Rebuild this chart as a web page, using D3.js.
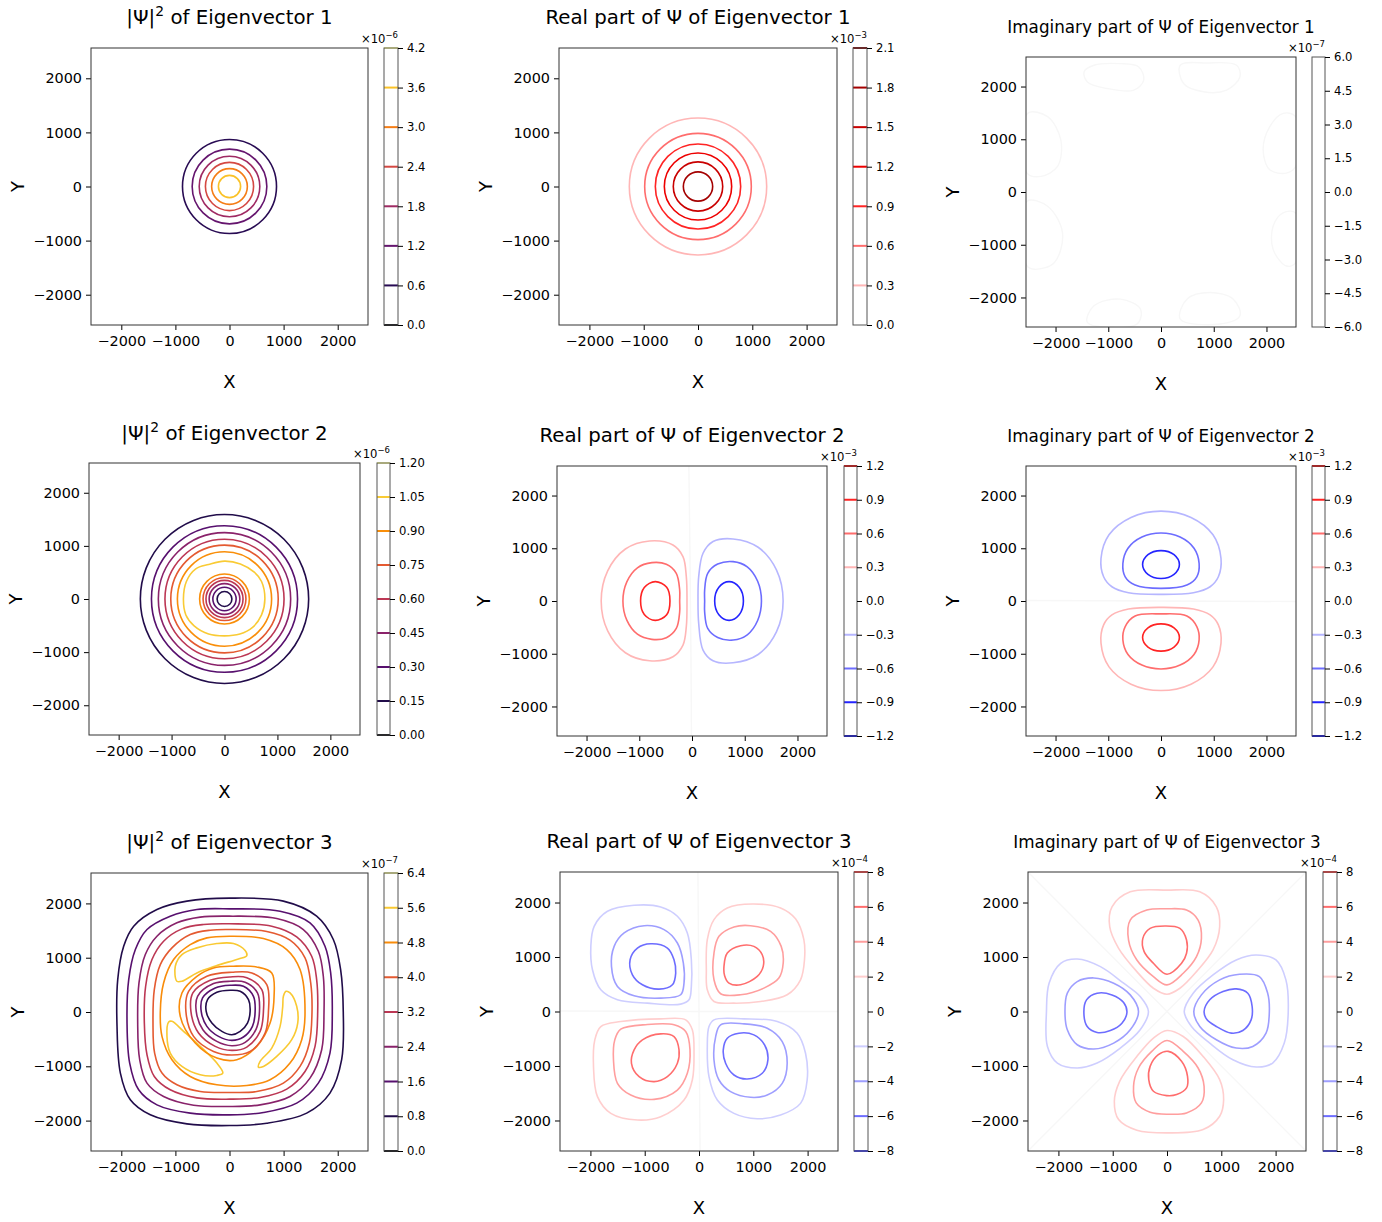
<!DOCTYPE html>
<html>
<head>
<meta charset="utf-8">
<script src="https://cdn.jsdelivr.net/npm/d3@7"></script>
<style>
  body { margin: 0; background: #fff; }
  text { font-family: "DejaVu Sans", sans-serif; fill: #000; }
</style>
</head>
<body>
<svg id="fig" width="1382" height="1222"></svg>
<script>
"use strict";
/* global d3 */

// ---- data (lengths in grid units, levels in colorbar units) ----
var extent = 2560;
var axisTicks = [-2000, -1000, 0, 1000, 2000];

var levelsAbs1 = [0, 0.6, 1.2, 1.8, 2.4, 3.0, 3.6, 4.2];
var levelsRe1 = [0, 0.3, 0.6, 0.9, 1.2, 1.5, 1.8, 2.1];
var levelsIm1 = [-6, -4.5, -3, -1.5, 0, 1.5, 3, 4.5, 6];
var levelsAbs2 = [0, 0.15, 0.3, 0.45, 0.6, 0.75, 0.9, 1.05, 1.2];
var levelsRe2 = [-1.2, -0.9, -0.6, -0.3, 0, 0.3, 0.6, 0.9, 1.2];
var levelsIm2 = levelsRe2;
var levelsAbs3 = [0, 0.8, 1.6, 2.4, 3.2, 4.0, 4.8, 5.6, 6.4];
var levelsRe3 = [-8, -6, -4, -2, 0, 2, 4, 6, 8];
var levelsIm3 = levelsRe3;

// circular contours: [level, radius]
var ringsAbs1 = [[0.6, 869], [1.2, 690], [1.8, 560], [2.4, 445], [3.0, 330], [3.6, 205]];
var ringsRe1 = [[0.3, 1265], [0.6, 982], [0.9, 786], [1.2, 620], [1.5, 455], [1.8, 270]];
var ringsAbs2 = [
  [0.15, 1590], [0.3, 1380], [0.45, 1250], [0.6, 1125], [0.75, 1015], [0.9, 890],
  [0.9, 470], [0.75, 405], [0.6, 350], [0.45, 290], [0.3, 220], [0.15, 140]
];

// closed contours: {level, pts}
var shapesAbs2 = [
  { level: 1.05, pts: [[763, 0], [700, 330], [562, 505], [300, 660], [0, 713], [-300, 650], [-543, 568], [-720, 330], [-776, 0], [-730, -300], [-574, -505], [-300, -660], [0, -694], [290, -660], [530, -536], [700, -300]] }
];

var shapesRe2 = [
  { level: 0.3, pts: [[-95, 0], [-108, 462], [-171, 842], [-361, 1063], [-804, 1139], [-1263, 986], [-1599, 570], [-1722, 0], [-1599, -567], [-1263, -981], [-804, -1133], [-361, -1057], [-171, -836], [-108, -487]] },
  { level: 0.6, pts: [[-234, 0], [-234, 209], [-298, 525], [-487, 696], [-760, 728], [-1035, 630], [-1236, 364], [-1310, 0], [-1236, -364], [-1035, -630], [-760, -728], [-487, -696], [-298, -520], [-234, -209]] },
  { level: 0.9, pts: [[-418, 0], [-480, 260], [-696, 367], [-905, 255], [-975, 0], [-905, -255], [-696, -367], [-480, -260]] },
  { level: -0.3, pts: [[114, 0], [127, 462], [209, 905], [399, 1127], [779, 1177], [1254, 1019], [1601, 589], [1728, 0], [1601, -586], [1254, -1014], [779, -1171], [399, -1133], [209, -930], [127, -424]] },
  { level: -0.6, pts: [[240, 0], [240, 209], [298, 525], [487, 700], [780, 747], [1048, 647], [1245, 374], [1317, 0], [1245, -370], [1048, -641], [780, -740], [487, -693], [298, -520], [240, -209]] },
  { level: -0.9, pts: [[975, 0], [895, 260], [703, 367], [510, 260], [430, 0], [510, -260], [703, -367], [895, -260]] }
];

var shapesIm2 = [
  { level: -0.3, pts: [[0, 126], [616, 157], [931, 270], [1088, 459], [1138, 805], [986, 1255], [569, 1584], [0, 1705], [-569, 1584], [-986, 1255], [-1138, 805], [-1088, 459], [-931, 270], [-616, 157]] },
  { level: -0.6, pts: [[0, 239], [491, 302], [679, 459], [723, 711], [626, 1000], [362, 1212], [0, 1289], [-362, 1212], [-626, 1000], [-723, 711], [-679, 459], [-491, 302]] },
  { level: -0.9, pts: [[349, 692], [247, 879], [0, 956], [-247, 879], [-349, 692], [-247, 505], [0, 428], [247, 505]] },
  { level: 0.3, pts: [[0, -120], [616, -151], [931, -264], [1088, -453], [1138, -799], [986, -1249], [569, -1577], [0, -1698], [-569, -1577], [-986, -1249], [-1138, -799], [-1088, -453], [-931, -264], [-616, -151]] },
  { level: 0.6, pts: [[0, -245], [491, -283], [679, -484], [723, -736], [626, -1013], [362, -1215], [0, -1289], [-362, -1215], [-626, -1013], [-723, -736], [-679, -484], [-491, -283]] },
  { level: 0.9, pts: [[349, -692], [247, -510], [0, -434], [-247, -510], [-349, -692], [-247, -874], [0, -950], [247, -874]] }
];

var shapesAbs3 = [
  { level: 0.8, pts: [[0, 2097], [996, 2042], [1611, 1765], [1919, 1335], [2054, 781], [2103, 0], [2073, -879], [1857, -1494], [1427, -1863], [689, -2048], [0, -2091], [-787, -2060], [-1464, -1894], [-1833, -1617], [-2017, -1125], [-2079, -264], [-2066, 597], [-1956, 1212], [-1771, 1581], [-1341, 1888], [-787, 2042]] },
  { level: 1.6, pts: [[0, 1900], [935, 1857], [1488, 1642], [1765, 1212], [1870, 720], [1900, 0], [1857, -756], [1642, -1310], [1242, -1679], [627, -1851], [0, -1894], [-726, -1863], [-1341, -1710], [-1679, -1433], [-1845, -941], [-1894, -203], [-1863, 597], [-1740, 1150], [-1525, 1519], [-1095, 1765], [-603, 1888]] },
  { level: 2.4, pts: [[0, 1765], [873, 1722], [1365, 1519], [1642, 1119], [1734, 658], [1747, 0], [1704, -695], [1488, -1218], [1119, -1556], [566, -1710], [0, -1740], [-664, -1716], [-1218, -1556], [-1525, -1310], [-1660, -879], [-1697, -203], [-1673, 535], [-1556, 1058], [-1341, 1396], [-972, 1642], [-541, 1747]] },
  { level: 3.2, pts: [[0, 1624], [781, 1581], [1242, 1384], [1519, 1027], [1611, 597], [1630, 0], [1581, -633], [1396, -1095], [1058, -1421], [566, -1574], [0, -1605], [-603, -1581], [-1095, -1433], [-1390, -1187], [-1525, -787], [-1574, -203], [-1550, 474], [-1433, 966], [-1218, 1304], [-879, 1531], [-480, 1611]] },
  { level: 4.0, pts: [[0, 1519], [689, 1482], [1119, 1322], [1396, 996], [1501, 535], [1525, 0], [1476, -572], [1304, -1002], [996, -1310], [504, -1464], [0, -1482], [-541, -1464], [-972, -1341], [-1248, -1125], [-1384, -756], [-1414, -203], [-1390, 412], [-1279, 873], [-1064, 1181], [-726, 1427], [-357, 1507]] },
  { level: 4.8, pts: [[0, 1396], [627, 1353], [1058, 1150], [1304, 781], [1396, 0], [1335, -510], [1119, -941], [750, -1248], [320, -1353], [-234, -1341], [-726, -1187], [-1064, -879], [-1248, -449], [-1279, 0], [-1218, 535], [-1033, 966], [-726, 1242], [-418, 1365]] },
  { level: 5.6, pts: [[-972, 566], [-1002, 843], [-879, 1058], [-603, 1181], [-234, 1261], [74, 1261], [289, 1132], [320, 1039], [166, 978], [-234, 855], [-603, 720], [-879, 566]] },
  { level: 5.6, pts: [[1046, 381], [1119, 351], [1242, 105], [1261, -203], [1150, -510], [873, -818], [627, -1002], [535, -1015], [566, -910], [781, -664], [935, -264], [984, 105], [996, 289]] },
  { level: 5.6, pts: [[-1125, -184], [-1064, -172], [-849, -357], [-541, -633], [-234, -941], [-123, -1125], [-234, -1168], [-541, -1156], [-879, -1002], [-1095, -756], [-1156, -449]] },
  { level: 4.8, pts: [[74, 843], [504, 830], [781, 720], [824, 289], [750, -203], [504, -633], [135, -879], [-234, -849], [-633, -572], [-910, -80], [-879, 351], [-603, 658], [-295, 812]] },
  { level: 4.0, pts: [[43, 732], [412, 720], [689, 504], [720, 12], [658, -387], [381, -726], [43, -793], [-295, -726], [-664, -449], [-806, 12], [-756, 381], [-418, 658]] },
  { level: 3.2, pts: [[12, 646], [320, 633], [597, 412], [627, 12], [566, -357], [320, -646], [43, -707], [-264, -633], [-572, -387], [-713, 12], [-677, 351], [-357, 584]] },
  { level: 2.4, pts: [[12, 566], [289, 547], [517, 351], [554, 12], [492, -314], [289, -560], [43, -621], [-234, -541], [-492, -326], [-615, 12], [-590, 289], [-295, 523]] },
  { level: 1.6, pts: [[12, 492], [258, 474], [443, 289], [474, 12], [424, -264], [258, -461], [43, -523], [-203, -449], [-418, -264], [-523, 12], [-498, 258], [-264, 443]] },
  { level: 0.8, pts: [[12, 400], [197, 381], [351, 228], [381, 12], [332, -203], [197, -357], [43, -418], [-141, -357], [-326, -203], [-431, 12], [-406, 228], [-234, 363]] }
];

var shapesRe3 = [
  { level: -2, pts: [[-1195, 1949], [-705, 1919], [-398, 1747], [-215, 1441], [-141, 950], [-141, 460], [-184, 215], [-337, 135], [-950, 153], [-1502, 215], [-1808, 398], [-1962, 766], [-1992, 1195], [-1931, 1563], [-1686, 1839]] },
  { level: -4, pts: [[-1011, 1575], [-644, 1502], [-398, 1257], [-288, 889], [-276, 521], [-337, 307], [-705, 245], [-1195, 288], [-1502, 460], [-1612, 828], [-1563, 1195], [-1379, 1441]] },
  { level: -6, pts: [[-889, 1244], [-582, 1165], [-460, 950], [-429, 705], [-490, 490], [-736, 411], [-1042, 490], [-1226, 674], [-1269, 950], [-1134, 1165]] },
  { level: 2, pts: [[135, 766], [153, 1318], [276, 1686], [521, 1900], [981, 1974], [1502, 1900], [1778, 1700], [1931, 1318], [1943, 950], [1870, 582], [1624, 307], [1134, 184], [644, 153], [276, 184], [153, 398]] },
  { level: 4, pts: [[276, 1073], [368, 1379], [644, 1551], [950, 1575], [1318, 1471], [1514, 1195], [1551, 889], [1471, 613], [1195, 429], [766, 307], [398, 325], [276, 582]] },
  { level: 6, pts: [[460, 828], [521, 1073], [766, 1208], [1011, 1195], [1165, 1042], [1183, 828], [1073, 644], [766, 490], [552, 521], [472, 656]] },
  { level: 2, pts: [[-1808, -276], [-1441, -184], [-705, -135], [-245, -153], [-123, -337], [-92, -766], [-123, -1257], [-276, -1624], [-705, -1931], [-1134, -1992], [-1624, -1870], [-1870, -1563], [-1943, -1011], [-1919, -521]] },
  { level: 4, pts: [[-1441, -325], [-950, -239], [-460, -245], [-245, -368], [-166, -705], [-215, -1134], [-398, -1441], [-828, -1612], [-1257, -1533], [-1502, -1318], [-1575, -889], [-1551, -521]] },
  { level: 6, pts: [[-1195, -705], [-1042, -521], [-705, -411], [-460, -460], [-368, -705], [-398, -950], [-582, -1195], [-828, -1287], [-1103, -1195], [-1244, -950]] },
  { level: -2, pts: [[276, -153], [828, -135], [1441, -184], [1808, -398], [1962, -766], [1992, -1257], [1870, -1686], [1502, -1900], [1073, -1968], [644, -1870], [337, -1624], [184, -1195], [153, -644], [184, -276]] },
  { level: -4, pts: [[398, -245], [828, -227], [1257, -307], [1533, -552], [1624, -950], [1533, -1318], [1257, -1533], [950, -1575], [582, -1471], [368, -1257], [276, -889], [307, -460]] },
  { level: -6, pts: [[521, -490], [736, -398], [1011, -429], [1208, -613], [1269, -889], [1165, -1134], [889, -1238], [644, -1165], [490, -950], [447, -705]] }
];

var shapesIm3 = [
  { level: 2, pts: [[0, 2227], [604, 2196], [909, 1922], [970, 1556], [848, 1129], [543, 732], [238, 427], [0, 317], [-250, 427], [-555, 732], [-891, 1159], [-1055, 1556], [-1013, 1922], [-677, 2196]] },
  { level: 4, pts: [[0, 1885], [360, 1861], [573, 1678], [634, 1342], [543, 1007], [299, 702], [0, 488], [-250, 641], [-555, 946], [-708, 1312], [-677, 1678], [-372, 1861]] },
  { level: 6, pts: [[-37, 1568], [238, 1525], [360, 1312], [360, 1068], [268, 885], [0, 683], [-250, 885], [-421, 1098], [-445, 1342], [-311, 1525]] },
  { level: 2, pts: [[0, -348], [299, -458], [665, -824], [970, -1251], [1043, -1617], [970, -1922], [665, -2166], [24, -2227], [-555, -2178], [-891, -1983], [-970, -1647], [-872, -1281], [-555, -824], [-250, -488]] },
  { level: 4, pts: [[0, -531], [299, -732], [573, -1037], [683, -1373], [634, -1678], [360, -1861], [24, -1885], [-311, -1848], [-567, -1678], [-616, -1373], [-525, -1037], [-281, -732]] },
  { level: 6, pts: [[24, -732], [268, -915], [378, -1190], [360, -1403], [177, -1525], [-6, -1543], [-250, -1464], [-336, -1251], [-311, -1007], [-159, -793]] },
  { level: -2, pts: [[-342, 0], [-494, -336], [-860, -671], [-1287, -946], [-1653, -1037], [-2019, -946], [-2202, -641], [-2220, 0], [-2172, 519], [-1958, 885], [-1653, 964], [-1226, 824], [-799, 519], [-494, 275]] },
  { level: -4, pts: [[-525, 0], [-677, -336], [-982, -580], [-1348, -689], [-1653, -610], [-1836, -336], [-1879, 0], [-1836, 336], [-1653, 549], [-1348, 616], [-982, 519], [-677, 305]] },
  { level: -6, pts: [[-738, -18], [-830, -214], [-1043, -348], [-1287, -384], [-1470, -275], [-1531, -18], [-1482, 214], [-1287, 336], [-1013, 305], [-799, 165]] },
  { level: -2, pts: [[317, 0], [482, 336], [848, 671], [1275, 946], [1641, 1037], [2007, 946], [2190, 580], [2233, 0], [2160, -580], [1946, -946], [1641, -1019], [1214, -885], [787, -580], [451, -275]] },
  { level: -4, pts: [[494, 0], [634, 305], [970, 580], [1336, 683], [1702, 641], [1854, 336], [1885, 0], [1824, -397], [1580, -641], [1275, -671], [909, -519], [604, -275]] },
  { level: -6, pts: [[683, 0], [787, 214], [1031, 366], [1275, 415], [1488, 336], [1568, 92], [1549, -153], [1397, -348], [1183, -397], [909, -275], [738, -153]] }
];

// near-invisible contours (zero level / tiny values)
var faintIm1 = [
  [[-1459, 2277], [-1271, 2403], [-767, 2434], [-421, 2371], [-327, 2120], [-516, 1931], [-1019, 1962], [-1396, 2088]],
  [[365, 2403], [868, 2447], [1434, 2403], [1497, 2183], [1245, 1931], [805, 1900], [428, 2057]],
  [[2554, 1428], [2315, 1491], [2063, 1239], [1937, 799], [2063, 421], [2378, 359], [2554, 484]],
  [[2554, -396], [2315, -396], [2126, -648], [2126, -1088], [2378, -1403], [2554, -1340]],
  [[-2529, 1491], [-2151, 1428], [-1900, 988], [-1962, 484], [-2277, 296], [-2541, 359]],
  [[-2541, -176], [-2151, -270], [-1868, -774], [-2025, -1340], [-2403, -1466], [-2541, -1403]],
  [[365, -2409], [491, -2032], [931, -1906], [1371, -2032], [1497, -2346], [1120, -2503]],
  [[-1396, -2472], [-1271, -2157], [-767, -2032], [-390, -2220], [-453, -2503]]
];
var zeroRe2 = [[[-60, 2600], [-40, 1000], [-30, 0], [-20, -1000], [-10, -2600]]];
var zeroIm2 = [[[-2600, 10], [0, 0], [2600, -10]]];
var zeroRe3 = [[[-20, 2600], [0, 0], [20, -2600]], [[-2600, 10], [0, 0], [2600, 0]]];
var zeroIm3 = [[[-2600, 2600], [0, 0], [2600, -2600]], [[-2600, -2600], [0, 0], [2600, 2600]]];

var titles = [
  ["|Ψ|", "2", " of Eigenvector 1"], "Real part of Ψ of Eigenvector 1", "Imaginary part of Ψ of Eigenvector 1",
  ["|Ψ|", "2", " of Eigenvector 2"], "Real part of Ψ of Eigenvector 2", "Imaginary part of Ψ of Eigenvector 2",
  ["|Ψ|", "2", " of Eigenvector 3"], "Real part of Ψ of Eigenvector 3", "Imaginary part of Ψ of Eigenvector 3"
];
var exponents = ["−6", "−3", "−7", "−6", "−3", "−3", "−7", "−4", "−4"];

// ---- colour maps ----
var seismic = d3.scaleLinear()
  .domain([-2.1e-3, -1.05e-3, 0, 1.05e-3, 2.1e-3])
  .range(["#00004d", "#0000ff", "#ffffff", "#ff0000", "#800000"]);

function infernoColor(levels) {
  var top = levels[levels.length - 1];
  return (v) => d3.interpolateInferno(v / top);
}
function seismicColor(mult) {
  return (v) => seismic(v * mult);
}

var panels = [
  { box: [91, 368, 48, 325], cb: [384, 398], titleY: 24, titleSize: 19.8, levels: levelsAbs1, color: infernoColor(levelsAbs1), fmt: ".1f", rings: ringsAbs1, shapes: [], faint: [] },
  { box: [559, 837, 48, 325], cb: [853, 867], titleY: 24, titleSize: 19.8, levels: levelsRe1, color: seismicColor(1e-3), fmt: ".1f", rings: ringsRe1, shapes: [], faint: [] },
  { box: [1026, 1296, 57, 327], cb: [1312, 1325], titleY: 33, titleSize: 16.8, levels: levelsIm1, color: seismicColor(1e-7), fmt: ".1f", rings: [], shapes: [], faint: faintIm1, faintClosed: true },
  { box: [89, 360, 463, 735], cb: [377, 390], titleY: 440, titleSize: 19.8, levels: levelsAbs2, color: infernoColor(levelsAbs2), fmt: ".2f", rings: ringsAbs2, shapes: shapesAbs2, faint: [] },
  { box: [557, 827, 466, 736], cb: [844, 857], titleY: 441.5, titleSize: 19.8, levels: levelsRe2, color: seismicColor(1e-3), fmt: ".1f", rings: [], shapes: shapesRe2, faint: zeroRe2 },
  { box: [1026, 1296, 466, 736], cb: [1312, 1325], titleY: 441.5, titleSize: 16.8, levels: levelsIm2, color: seismicColor(1e-3), fmt: ".1f", rings: [], shapes: shapesIm2, faint: zeroIm2 },
  { box: [91, 368, 873, 1151], cb: [384, 398], titleY: 849, titleSize: 19.8, levels: levelsAbs3, color: infernoColor(levelsAbs3), fmt: ".1f", rings: [], shapes: shapesAbs3, faint: [] },
  { box: [560, 838, 872, 1151], cb: [854, 868], titleY: 847.5, titleSize: 19.8, levels: levelsRe3, color: seismicColor(1e-4), fmt: "d", rings: [], shapes: shapesRe3, faint: zeroRe3 },
  { box: [1028, 1306, 872, 1151], cb: [1323, 1337], titleY: 847.5, titleSize: 16.8, levels: levelsIm3, color: seismicColor(1e-4), fmt: "d", rings: [], shapes: shapesIm3, faint: zeroIm3 }
];

var svg = d3.select("#fig");

panels.forEach(function (p, i) {
  var L = p.box[0], R = p.box[1], T = p.box[2], B = p.box[3];
  var x = d3.scaleLinear().domain([-extent, extent]).range([L, R]);
  var y = d3.scaleLinear().domain([-extent, extent]).range([B, T]);
  var g = svg.append("g").attr("class", "panel");

  var clipId = "clip" + i;
  g.append("clipPath").attr("id", clipId)
    .append("rect").attr("x", L).attr("y", T).attr("width", R - L).attr("height", B - T);

  var plot = g.append("g").attr("clip-path", "url(#" + clipId + ")");

  var closed = d3.line().x((d) => x(d[0])).y((d) => y(d[1]))
    .curve(d3.curveCatmullRomClosed.alpha(0.5));
  var open = d3.line().x((d) => x(d[0])).y((d) => y(d[1]))
    .curve(d3.curveCatmullRom.alpha(0.5));

  // faint (near white) contours first
  plot.selectAll(".faint").data(p.faint).enter().append("path")
    .attr("class", "faint")
    .attr("d", (d) => (p.faintClosed ? closed(d) : open(d)))
    .attr("fill", "none").attr("stroke", "#f7f7f7").attr("stroke-width", 1.4);

  plot.selectAll(".ring").data(p.rings).enter().append("ellipse")
    .attr("class", "ring")
    .attr("cx", x(0)).attr("cy", y(0))
    .attr("rx", (d) => x(d[1]) - x(0))
    .attr("ry", (d) => y(0) - y(d[1]))
    .attr("fill", "none")
    .attr("stroke", (d) => p.color(d[0]))
    .attr("stroke-width", 1.6);

  plot.selectAll(".shape").data(p.shapes).enter().append("path")
    .attr("class", "shape")
    .attr("d", (d) => closed(d.pts))
    .attr("fill", "none")
    .attr("stroke", (d) => p.color(d.level))
    .attr("stroke-width", 1.6);

  // axes
  var fmtTick = d3.format("d");
  var xAxis = g.append("g").attr("transform", "translate(0," + B + ")")
    .call(d3.axisBottom(x).tickValues(axisTicks).tickFormat(fmtTick).tickSize(5).tickPadding(6));
  var yAxis = g.append("g").attr("transform", "translate(" + L + ",0)")
    .call(d3.axisLeft(y).tickValues(axisTicks).tickFormat(fmtTick).tickSize(5).tickPadding(4));
  [xAxis, yAxis].forEach(function (ax) {
    ax.select(".domain").remove();
    ax.selectAll("line").attr("stroke", "#000").attr("stroke-width", 1);
    ax.selectAll("text").attr("font-size", 14.4).attr("font-family", "DejaVu Sans").attr("fill", "#000");
  });

  g.append("rect").attr("x", L).attr("y", T).attr("width", R - L).attr("height", B - T)
    .attr("fill", "none").attr("stroke", "#333").attr("stroke-width", 1);

  // axis labels
  g.append("text").attr("x", (L + R) / 2).attr("y", B + 62.5)
    .attr("text-anchor", "middle").attr("font-size", 18).text("X");
  g.append("text")
    .attr("transform", "translate(" + (L - 67.5) + "," + (T + B) / 2 + ") rotate(-90)")
    .attr("text-anchor", "middle").attr("font-size", 18).text("Y");

  // title
  var t = g.append("text").attr("x", (L + R) / 2).attr("y", p.titleY)
    .attr("text-anchor", "middle").attr("font-size", p.titleSize);
  var title = titles[i];
  if (Array.isArray(title)) {
    t.append("tspan").text(title[0]);
    t.append("tspan").attr("dy", -8).attr("font-size", p.titleSize * 0.7).text(title[1]);
    t.append("tspan").attr("dy", 8).text(title[2]);
  } else {
    t.text(title);
  }

  // colorbar
  var c0 = p.cb[0], c1 = p.cb[1];
  var lv = p.levels;
  var cy = d3.scaleLinear().domain([lv[0], lv[lv.length - 1]]).range([B, T]);
  var cbg = g.append("g");
  cbg.append("rect").attr("x", c0).attr("y", T).attr("width", c1 - c0).attr("height", B - T)
    .attr("fill", "#fff");
  cbg.selectAll(".lvl").data(lv).enter().append("line")
    .attr("class", "lvl")
    .attr("x1", c0).attr("x2", c1)
    .attr("y1", (d) => cy(d)).attr("y2", (d) => cy(d))
    .attr("stroke", (d) => p.color(d))
    .attr("stroke-width", 2);
  cbg.append("rect").attr("x", c0).attr("y", T).attr("width", c1 - c0).attr("height", B - T)
    .attr("fill", "none").attr("stroke", "#555").attr("stroke-width", 1);
  var cbAxis = cbg.append("g").attr("transform", "translate(" + c1 + ",0)")
    .call(d3.axisRight(cy).tickValues(lv).tickFormat(d3.format(p.fmt)).tickSize(5).tickPadding(4));
  cbAxis.select(".domain").remove();
  cbAxis.selectAll("line").attr("stroke", "#000");
  cbAxis.selectAll("text").attr("font-size", 11.6).attr("font-family", "DejaVu Sans").attr("fill", "#000");

  var ex = cbg.append("text").attr("x", c1).attr("y", T - 5)
    .attr("text-anchor", "end").attr("font-size", 11.6);
  ex.append("tspan").text("×10");
  ex.append("tspan").attr("dy", -5).attr("font-size", 8.5).text(exponents[i]);
});
</script>
</body>
</html>
